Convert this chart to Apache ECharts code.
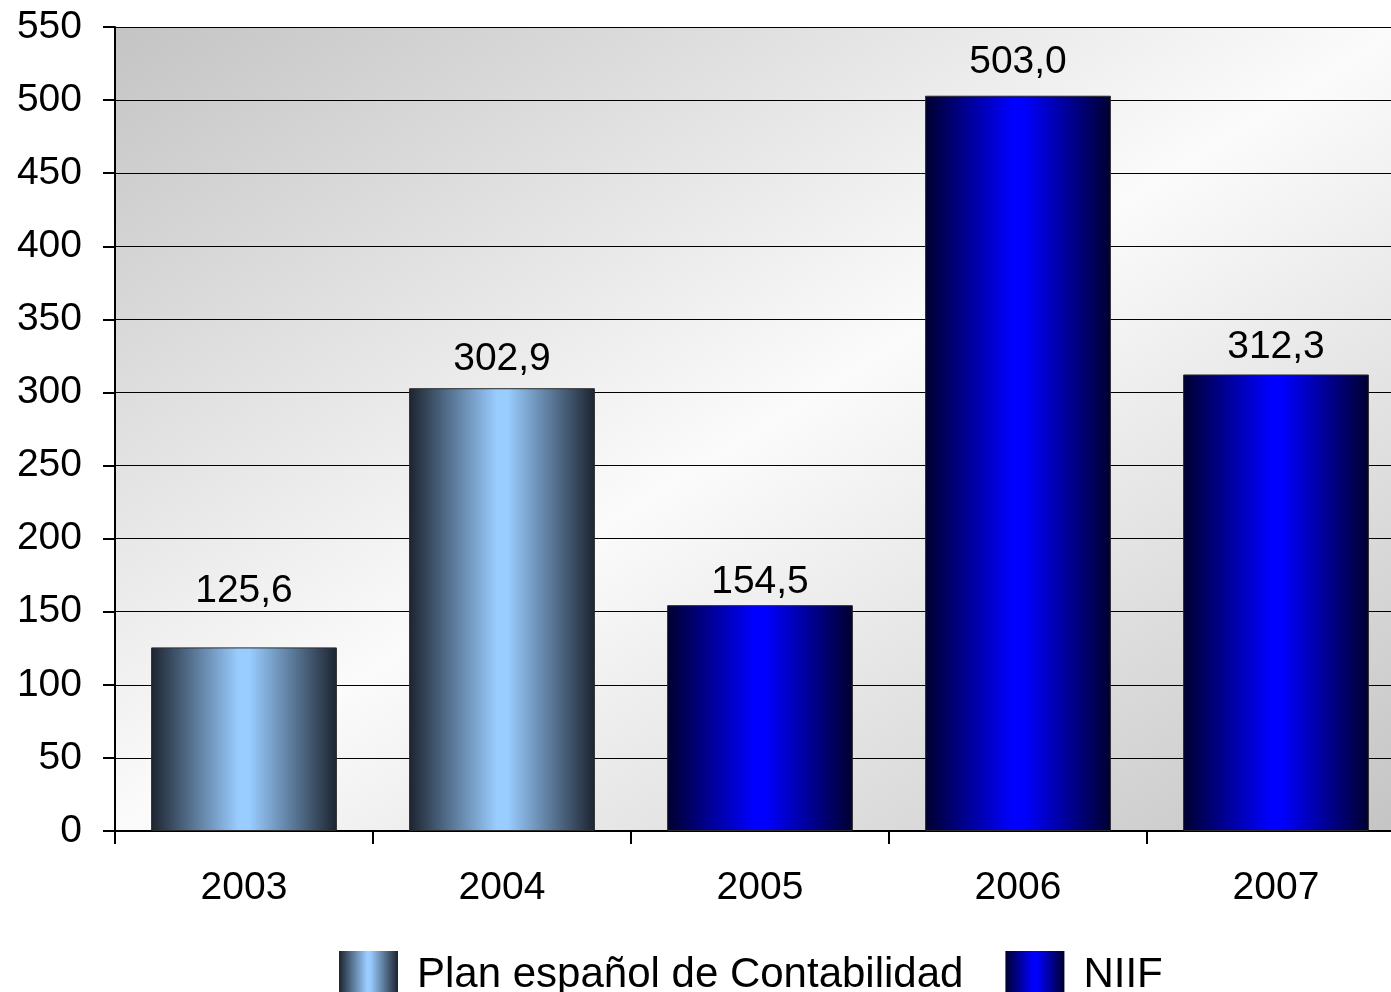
<!DOCTYPE html>
<html>
<head>
<meta charset="utf-8">
<script src="https://cdn.jsdelivr.net/npm/echarts@6/dist/echarts.min.js"></script>
<style>html,body{margin:0;padding:0;background:#fff;overflow:hidden;width:1391px;height:992px}#c{width:1405px;height:992px}</style>
</head>
<body>
<div id="c"></div>
<script>
var categories = ['2003', '2004', '2005', '2006', '2007'];
var planValues = [125.6, 302.9, null, null, null];
var niifValues = [null, null, 154.5, 503.0, 312.3];
var seriesNames = ['Plan español de Contabilidad', 'NIIF'];
var yTicks = {min: 0, max: 550, interval: 50};
var labelDist = [37, 9, 3, 14, 8];

var font = 'Liberation Sans, Arial, sans-serif';
function fmt(v) { return v.toFixed(1).replace('.', ','); }
function grad(edge, mid) {
  return new echarts.graphic.LinearGradient(0, 0, 1, 0, [
    {offset: 0, color: edge}, {offset: 0.47, color: mid}, {offset: 0.53, color: mid}, {offset: 1, color: edge}
  ]);
}
function toData(arr) {
  return arr.map(function (v, i) {
    if (v === null) return '-';
    return {value: v, label: {distance: labelDist[i]}};
  });
}
var planColor = grad('#1c2430', '#99ccff');
var niifColor = grad('#000030', '#0000ff');

var chart = echarts.init(document.getElementById('c'));
chart.setOption({
  animation: false,
  grid: {
    left: 115, right: 0, top: 27, bottom: 161, show: true, borderWidth: 0,
    backgroundColor: new echarts.graphic.LinearGradient(0, 0, 0.56, 1.44, [
      {offset: 0, color: '#c4c4c4'}, {offset: 0.5, color: '#fbfbfb'}, {offset: 1, color: '#c4c4c4'}
    ])
  },
  legend: {
    left: 334, top: 946, itemWidth: 59, itemHeight: 48, itemGap: 42,
    icon: 'rect',
    textStyle: {fontFamily: font, fontSize: 42, color: '#000', padding: [0, 0, 0, 14]},
    data: [
      {name: seriesNames[0], itemStyle: {color: planColor, borderWidth: 0}},
      {name: seriesNames[1], itemStyle: {color: niifColor, borderWidth: 0}}
    ]
  },
  xAxis: {
    type: 'category', data: categories, boundaryGap: true,
    axisLine: {lineStyle: {color: '#000', width: 2}},
    axisTick: {show: true, length: 13, lineStyle: {color: '#000', width: 2}},
    axisLabel: {fontFamily: font, fontSize: 39, color: '#000', margin: 38},
    splitLine: {show: false}
  },
  yAxis: {
    type: 'value', min: yTicks.min, max: yTicks.max, interval: yTicks.interval,
    axisLine: {show: true, lineStyle: {color: '#000', width: 2}},
    axisTick: {show: true, length: 12, lineStyle: {color: '#000', width: 2}},
    axisLabel: {fontFamily: font, fontSize: 39, color: '#000', margin: 33},
    splitLine: {show: true, lineStyle: {color: '#000', width: 1.2}}
  },
  series: [
    {
      name: seriesNames[0], type: 'bar', barWidth: '72%', barGap: '-100%',
      data: toData(planValues),
      itemStyle: {color: planColor, borderColor: '#2a2a2a', borderWidth: 1},
      label: {show: true, position: 'top', fontFamily: font, fontSize: 39, color: '#000',
        formatter: function (p) { return fmt(p.value); }}
    },
    {
      name: seriesNames[1], type: 'bar', barWidth: '72%', barGap: '-100%',
      data: toData(niifValues),
      itemStyle: {color: niifColor, borderColor: '#2a2a2a', borderWidth: 1},
      label: {show: true, position: 'top', fontFamily: font, fontSize: 39, color: '#000',
        formatter: function (p) { return fmt(p.value); }}
    }
  ]
});
</script>
</body>
</html>
